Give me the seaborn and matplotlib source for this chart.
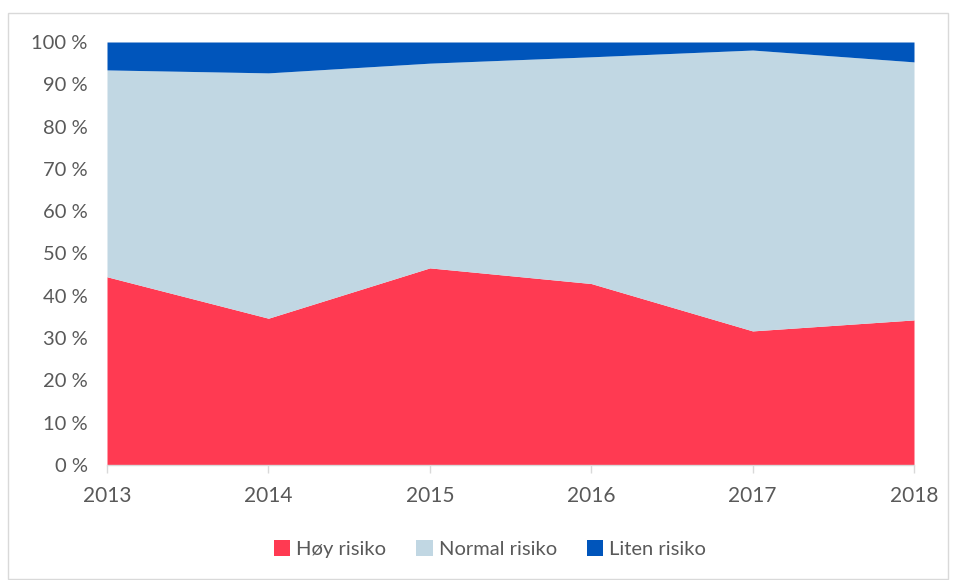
import matplotlib
matplotlib.use("Agg")
import matplotlib.pyplot as plt
from matplotlib.patches import Rectangle
from matplotlib.ticker import FuncFormatter
import seaborn as sns

years = [2013, 2014, 2015, 2016, 2017, 2018]
hoy_risiko = [44.5, 34.7, 46.6, 42.9, 31.7, 34.3]
normal_risiko = [48.9, 58.0, 48.4, 53.6, 66.4, 61.0]
liten_risiko = [6.6, 7.3, 5.0, 3.5, 1.9, 4.7]
labels = ["Høy risiko", "Normal risiko", "Liten risiko"]
colors = ["#FF3A52", "#C1D7E3", "#0055BB"]

sns.set_theme(style="white")
plt.rcParams["font.family"] = ["Lato", "DejaVu Sans"]
text_color = "#595959"

fig = plt.figure(figsize=(9.57, 5.8), dpi=100)
ax = fig.add_axes([107 / 957, 1 - 465 / 580, (914 - 107) / 957, (465 - 42) / 580])

ax.stackplot(years, hoy_risiko, normal_risiko, liten_risiko,
             labels=labels, colors=colors, linewidth=0)

ax.set_xlim(years[0], years[-1])
ax.set_ylim(0, 100)
ax.set_yticks(range(0, 101, 10))
ax.yaxis.set_major_formatter(FuncFormatter(lambda v, p: f"{int(v)} %"))
ax.set_xticks(years)

for s in ["top", "right", "left"]:
    ax.spines[s].set_visible(False)
ax.spines["bottom"].set_color("#D9D9D9")
ax.spines["bottom"].set_linewidth(1)
ax.tick_params(axis="x", bottom=True, length=6, color="#D9D9D9", width=1,
               labelsize=15, labelcolor=text_color, pad=9)
ax.tick_params(axis="y", left=False, labelsize=14.5, labelcolor=text_color, pad=8)

leg = fig.legend(loc="center", bbox_to_anchor=(490 / 957, 1 - 549 / 580), ncol=3,
                 frameon=False, fontsize=14.5, handlelength=0.8, handleheight=0.8,
                 columnspacing=1.5, handletextpad=0.3)
for t in leg.get_texts():
    t.set_color(text_color)

fig.patches.append(Rectangle((8 / 957, 0.002), 940 / 957, 1 - 13 / 580 - 0.002,
                             transform=fig.transFigure, fill=False,
                             edgecolor="#D9D9D9", linewidth=1))

fig.savefig("out.png", dpi=100)
